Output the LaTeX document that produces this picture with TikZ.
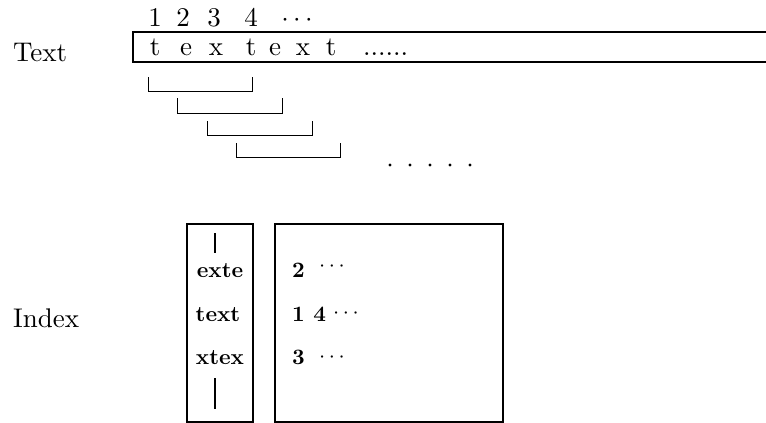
\documentclass[tikz,border=0pt]{standalone}
\newcommand\rsbig[1]{\scalebox{2.7}{#1}}
\newcommand\rsbold[1]{\scalebox{2.2}{\bfseries #1}}
\begin{document}
\begin{tikzpicture}[x=1pt,y=-1pt,
  lbl/.style={inner sep=0pt,anchor=base west},
  glyph/.style={inner sep=0pt,anchor=base},
  heavy/.style={line width=2.5pt},
  boxline/.style={line width=2pt},
  bracket/.style={line width=0.9pt},
  dotmark/.style={fill=black,draw=none}]
\path[use as bounding box] (0,0) rectangle (766,423);
% labels
\node[lbl] (textlbl) at (13,61) {\rsbig{Text}};
\node[lbl] (indexlbl) at (13,327) {\rsbig{Index}};
% positions
\node[glyph] (n1) at (155,27) {\rsbig{1}};
\node[glyph] (n2) at (183,27) {\rsbig{2}};
\node[glyph] (n3) at (214,27) {\rsbig{3}};
\node[glyph] (n4) at (251,27) {\rsbig{4}};
\node[glyph] (ndots) at (297,27) {\rsbig{$\cdots$}};
% text strip
\draw[heavy] (766,32) -- (133,32) -- (133,62) -- (766,62);
\node[glyph] (c1) at (155,55) {\rsbig{t}};
\node[glyph] (c2) at (186,55) {\rsbig{e}};
\node[glyph] (c3) at (216,55) {\rsbig{x}};
\node[glyph] (c4) at (251,55) {\rsbig{t}};
\node[glyph] (c5) at (275,55) {\rsbig{e}};
\node[glyph] (c6) at (303,55) {\rsbig{x}};
\node[glyph] (c7) at (331,55) {\rsbig{t}};
\node[lbl] (cdots) at (363,55) {\rsbig{......}};
% windows
\draw[bracket] (148,77) -- (148,91) -- (252,91) -- (252,77);
\draw[bracket] (177,98) -- (177,113) -- (282,113) -- (282,98);
\draw[bracket] (207,121) -- (207,135) -- (312,135) -- (312,121);
\draw[bracket] (236,143) -- (236,157) -- (340,157) -- (340,143);
\foreach \x in {390,410,430,450,470} \fill[dotmark] (\x,165) circle (1.6);
% index boxes
\draw[boxline] (187,224) rectangle (253,422);
\draw[boxline] (275,224) rectangle (503,422);
\draw[boxline] (215,233) -- (215,253);
\draw[boxline] (215,378) -- (215,409);
\node[glyph] (k1) at (220,277) {\rsbold{exte}};
\node[glyph] (k2) at (218,321) {\rsbold{text}};
\node[glyph] (k3) at (220,364) {\rsbold{xtex}};
\node[lbl] (p1) at (292,277) {\rsbold{2}};
\node[lbl] (p2) at (292,321) {\rsbold{1 4}};
\node[lbl] (p3) at (292,364) {\rsbold{3}};
\node[glyph] (d1) at (332,271) {\rsbold{$\cdots$}};
\node[glyph] (d2) at (346,318) {\rsbold{$\cdots$}};
\node[glyph] (d3) at (332,362) {\rsbold{$\cdots$}};
\end{tikzpicture}
\end{document}
